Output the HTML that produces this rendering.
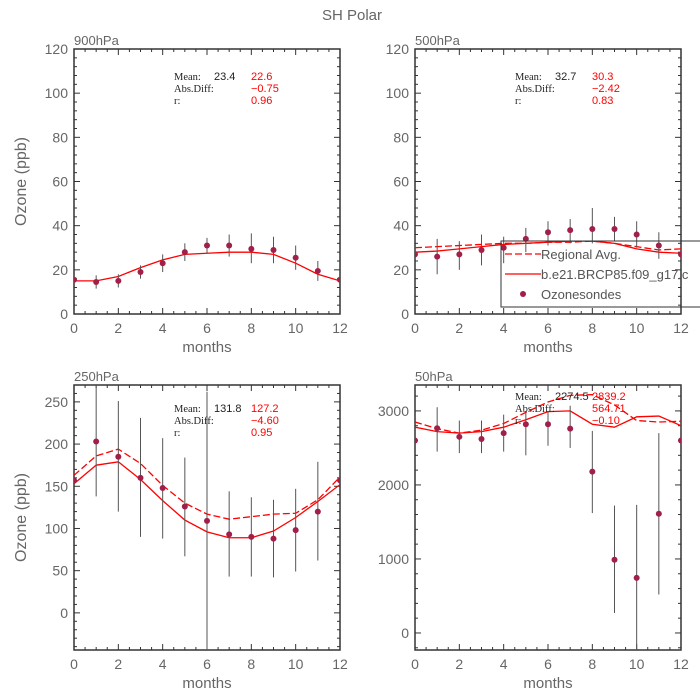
<!DOCTYPE html>
<html><head><meta charset="utf-8"><style>
body{margin:0;background:#fff;}
svg{display:block;font-family:"Liberation Sans",sans-serif;}
</style></head><body>
<svg id="chart" width="700" height="700" viewBox="0 0 700 700">
<text x="352" y="20" text-anchor="middle" font-size="15" fill="#666">SH Polar</text>
</svg>
<script>
const months = [0,1,2,3,4,5,6,7,8,9,10,11,12];
const obs900 = [15.5,14.5,15,19,23,28,31,31,29.5,29,25.5,19.5,15.5];
const lo900 = [15.5,11.5,12,16,19,24,27.5,26,23,23,20,15,15.5];
const hi900 = [15.5,17.5,18,22,27,32,34.5,36,36.5,35,31,24,15.5];
const model900 = [15,15,17,21,24.5,27,27.5,28,28,27,23,18,15];
const obs500 = [27,26,27,29,30,34,37,38,38.5,38.5,36,31,27];
const lo500 = [27,18,20,22,23,28,31,32,32,33,30,25,27];
const hi500 = [27,34,33,36,35,39,42,43,48,44,42,37,27];
const model500 = [28,28.5,29.5,30.5,31.5,32,32.5,33,33,32,29.5,28,27.5];
const reg500 = [30,30.5,31,31.5,32,32,32.5,32.5,33,32,30.5,29,29.5];
const obs250 = [157,203,185,160,148,126,109,93,90,88,98,120,157];
const lo250 = [157,138,120,90,88,67,-44,43,43,42,49,62,157];
const hi250 = [157,270,251,231,207,184,262,144,137,134,147,179,157];
const model250 = [153,175,179,158,133,110,96,89,89,97,113,132,152];
const reg250 = [163,186,194,177,151,130,117,111,114,117,118,134,161];
const obs50 = [2600,2766,2650,2620,2700,2820,2820,2760,2180,990,745,1610,2600];
const lo50 = [2600,2450,2430,2430,2450,2400,2530,2500,1620,270,-230,520,2600];
const hi50 = [2600,3050,2870,2870,2950,3000,3000,3070,2730,1720,1730,2700,2600];
const model50 = [2780,2720,2700,2720,2780,2880,2990,3000,2820,2780,2920,2930,2800];
const reg50 = [2850,2760,2700,2740,2830,2980,3120,3210,3220,3080,2870,2850,2860];
const xTicks = [0,2,4,6,8,10,12];
const yTicks900 = [0,20,40,60,80,100,120];
const yTicks250 = [0,50,100,150,200,250];
const yTicks50 = [0,1000,2000,3000];

const NS="http://www.w3.org/2000/svg";
const svg=document.getElementById('chart');
function mk(tag,attrs,parent){const e=document.createElementNS(NS,tag);for(const k in attrs)e.setAttribute(k,attrs[k]);(parent||svg).appendChild(e);return e;}

function panel(cfg){
  const g=mk('g',{});
  
  
  const {x0,x1,y0,y1,ymin,ymax}=cfg;
  const sx=v=>x0+(v-0)/12*(x1-x0);
  const sy=v=>y1-(v-ymin)/(ymax-ymin)*(y1-y0);
  const clipId='clip'+cfg.name;
  const cp=mk('clipPath',{id:clipId},g); mk('rect',{x:x0,y:y0,width:x1-x0,height:y1-y0},cp);
  const fr=mk('rect',{x:x0,y:y0,width:x1-x0,height:y1-y0,fill:'none',stroke:'#333','stroke-width':1.5},g);
  
  
  for(let m=0;m<=12;m++){
    const major=m%2===0,L=major?6:3;
    mk('line',{x1:sx(m),x2:sx(m),y1:y1,y2:y1-L,stroke:'#333'},g);
    mk('line',{x1:sx(m),x2:sx(m),y1:y0,y2:y0+L,stroke:'#333'},g);
    if(m<12){
      mk('line',{x1:sx(m+0.5),x2:sx(m+0.5),y1:y1,y2:y1-3,stroke:'#333'},g);
      mk('line',{x1:sx(m+0.5),x2:sx(m+0.5),y1:y0,y2:y0+3,stroke:'#333'},g);
    }
  }
  xTicks.forEach(t=>{
    const tx=mk('text',{x:sx(t),y:y1+19,'text-anchor':'middle','font-size':14,fill:'#666'},g);
    tx.textContent=t;
    
    
  });
  const xl=mk('text',{x:(x0+x1)/2,y:y1+38,'text-anchor':'middle','font-size':15,fill:'#666'},g);
  xl.textContent='months';
  
  
  const step=cfg.ticks[1]-cfg.ticks[0];
  for(let v=Math.ceil(ymin/(step/5))*(step/5);v<=ymax;v+=step/5){
    const major=Math.abs(v/step-Math.round(v/step))<1e-6,L=major?6:3;
    mk('line',{x1:x0,x2:x0+L,y1:sy(v),y2:sy(v),stroke:'#333'},g);
    mk('line',{x1:x1,x2:x1-L,y1:sy(v),y2:sy(v),stroke:'#333'},g);
  }
  cfg.ticks.forEach(t=>{
    const tx=mk('text',{x:x0-6,y:sy(t)+5,'text-anchor':'end','font-size':14,fill:'#666'},g);
    tx.textContent=t;
    
    
  });
  if(cfg.ylabel){
    const yl=mk('text',{transform:`translate(${x0-48},${(y0+y1)/2}) rotate(-90)`,'text-anchor':'middle','font-size':16,fill:'#666'},g);
    yl.textContent='Ozone (ppb)';
    
    
  }
  const pt=mk('text',{x:x0,y:y0-4,'font-size':13,fill:'#666'},g);
  pt.textContent=cfg.title;
  
  
  const cg=mk('g',{'clip-path':`url(#${clipId})`},g);
  if(cfg.reg){
    const p=mk('polyline',{points:months.map((m,i)=>sx(m)+','+sy(cfg.reg[i])).join(' '),fill:'none',stroke:'#f00','stroke-width':1.3,'stroke-dasharray':'7,3'},cg);
    
    
  }
  const pm=mk('polyline',{points:months.map((m,i)=>sx(m)+','+sy(cfg.model[i])).join(' '),fill:'none',stroke:'#f00','stroke-width':1.3},cg);
  
  
  months.forEach((m,i)=>{
    const eb=mk('line',{x1:sx(m),x2:sx(m),y1:sy(cfg.lo[i]),y2:sy(cfg.hi[i]),stroke:'#555','stroke-width':1},cg);
    
    
    const c=mk('circle',{cx:sx(m),cy:sy(cfg.obs[i]),r:3,fill:'#a0204a'},cg);
    
    
  });
  const st=cfg.stats, tx0=x0+100, ty=cfg.statsY;
  const rows=[['Mean:',st[0],st[1]],['Abs.Diff:','',st[2]],['r:','',st[3]]];
  rows.forEach((r,k)=>{
    const yy=ty+k*12;
    const a=mk('text',{x:tx0,y:yy,'font-size':10.5,'font-family':'Liberation Serif,serif',fill:'#222'},g);a.textContent=r[0];
    
    
    if(r[1]){const b=mk('text',{x:tx0+40,y:yy,'font-size':11,fill:'#222'},g);b.textContent=r[1];
      
      }
    const c=mk('text',{x:tx0+77,y:yy,'font-size':11,fill:'#f00'},g);c.textContent=r[2];
    
    
  });
}
panel({name:'panel-900hpa',title:'900hPa',x0:74,x1:340,y0:49,y1:314,ymin:0,ymax:120,ticks:yTicks900,ylabel:true,obs:obs900,lo:lo900,hi:hi900,model:model900,stats:['23.4','22.6','\u22120.75','0.96'],statsY:80});
panel({name:'panel-500hpa',title:'500hPa',x0:415,x1:681,y0:49,y1:314,ymin:0,ymax:120,ticks:yTicks900,ylabel:false,obs:obs500,lo:lo500,hi:hi500,model:model500,reg:reg500,stats:['32.7','30.3','\u22122.42','0.83'],statsY:80});
panel({name:'panel-250hpa',title:'250hPa',x0:74,x1:340,y0:385,y1:650,ymin:-44,ymax:270,ticks:yTicks250,ylabel:true,obs:obs250,lo:lo250,hi:hi250,model:model250,reg:reg250,stats:['131.8','127.2','\u22124.60','0.95'],statsY:412});
panel({name:'panel-50hpa',title:'50hPa',x0:415,x1:681,y0:385,y1:650,ymin:-230,ymax:3350,ticks:yTicks50,ylabel:false,obs:obs50,lo:lo50,hi:hi50,model:model50,reg:reg50,stats:['2274.5','2839.2','564.71','\u22120.10'],statsY:400});
const lg=mk('g',{});


mk('rect',{x:501,y:241,width:205,height:66,fill:'none',stroke:'#333','stroke-width':1},lg);
const items=[['Regional Avg.','dash'],['b.e21.BRCP85.f09_g17.c','line'],['Ozonesondes','dot']];
items.forEach((it,k)=>{
  const y=254+k*20;
  if(it[1]==='dot'){const d=mk('circle',{cx:523,cy:y,r:3,fill:'#a0204a'},lg);
    }
  else {const l=mk('line',{x1:505,x2:541,y1:y,y2:y,stroke:'#f00','stroke-width':1.3,'stroke-dasharray':it[1]==='dash'?'7,3':'none'},lg);
    }
  const t=mk('text',{x:541,y:y+5,'font-size':13,fill:'#555'},lg);t.textContent=it[0];
  
});
</script>
</body></html>
